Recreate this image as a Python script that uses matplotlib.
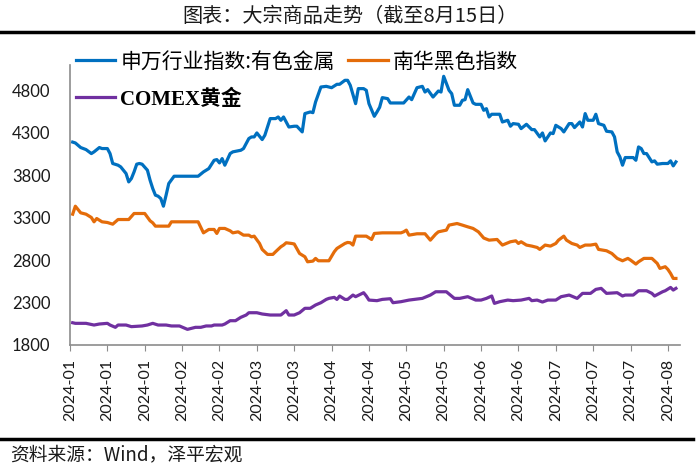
import datetime as dt
import matplotlib
matplotlib.use("Agg")
import matplotlib.pyplot as plt
import matplotlib.dates as mdates
import pandas as pd
from matplotlib.lines import Line2D

# ---- data ----
blue_label = "申万行业指数:有色金属"
orange_label = "南华黑色指数"
purple_label = "COMEX黄金"

blue_dates = [
    "01-02", "01-03", "01-05", "01-07", "01-09", "01-10", "01-12", "01-13", "01-15", "01-16", "01-17",
    "01-19", "01-20", "01-22", "01-23", "01-24", "01-25", "01-26", "01-27", "01-28", "01-30", "01-31",
    "02-01", "02-02", "02-03", "02-04", "02-05", "02-06", "02-07", "02-09", "02-18", "02-20", "02-22",
    "02-24", "02-25", "02-26", "02-27", "02-28",
    "03-01", "03-02", "03-05", "03-06", "03-08", "03-09", "03-10", "03-11", "03-13", "03-14", "03-16",
    "03-18", "03-19", "03-20", "03-21", "03-23", "03-25", "03-26", "03-28", "03-29", "03-31",
    "04-01", "04-02", "04-04", "04-06", "04-08", "04-10", "04-11", "04-13", "04-14", "04-15", "04-17",
    "04-18", "04-20", "04-21", "04-22", "04-24", "04-25", "04-26", "04-27", "04-29", "04-30",
    "05-05", "05-07", "05-08", "05-10", "05-12", "05-13", "05-14", "05-16", "05-18", "05-19", "05-20",
    "05-22", "05-23", "05-24", "05-26", "05-27", "05-28", "05-29", "05-31",
    "06-01", "06-03", "06-04", "06-05", "06-06", "06-07", "06-10", "06-11", "06-13", "06-14", "06-15",
    "06-17", "06-18", "06-20", "06-22", "06-23", "06-25", "06-26", "06-27", "06-29", "06-30",
    "07-01", "07-03", "07-04", "07-06", "07-07", "07-08", "07-10", "07-11", "07-12", "07-13", "07-15",
    "07-16", "07-17", "07-19", "07-20", "07-22", "07-23", "07-24", "07-25", "07-26", "07-27", "07-30",
    "07-31",
    "08-01", "08-02", "08-03", "08-04", "08-06", "08-07", "08-08", "08-10", "08-12", "08-13", "08-14",
    "08-15",
]
blue_values = [
    4190, 4180, 4126, 4102, 4055, 4075, 4126, 4114, 4114, 4055, 3938,
    3918, 3898, 3820, 3721, 3761, 3839, 3930, 3938, 3930, 3859, 3741,
    3643, 3565, 3553, 3526, 3435, 3565, 3702, 3788, 3788, 3839, 3878,
    3976, 3984, 3945, 3996, 3918,
    4055, 4075, 4094, 4114, 4232, 4251, 4251, 4298, 4220, 4271, 4467,
    4467, 4486, 4447, 4486, 4368, 4377, 4377, 4310, 4526, 4545,
    4537, 4663, 4839, 4847, 4831, 4871, 4871, 4918, 4918, 4859, 4643,
    4820, 4820, 4800, 4643, 4494, 4545, 4600, 4714, 4702, 4651,
    4651, 4721, 4690, 4831, 4847, 4780, 4808, 4721, 4792, 4780, 4965,
    4800, 4761, 4624, 4624, 4682, 4690, 4808, 4651,
    4635, 4635, 4565, 4584, 4486, 4518, 4518, 4427, 4447, 4377, 4408,
    4400, 4349, 4400, 4337, 4337, 4251, 4298, 4204, 4298, 4290,
    4388, 4349, 4310, 4408, 4408, 4361, 4427, 4368, 4526, 4447, 4447,
    4518, 4408, 4388, 4318, 4310, 4251, 4075, 4016, 3918, 4008, 4008,
    3976,
    4133, 4114, 4055, 4055, 3957, 3969, 3930, 3938, 3938, 3969, 3910,
    3957,
]

orange_dates = [
    "01-02", "01-03", "01-05", "01-07", "01-09", "01-10", "01-11", "01-13", "01-15", "01-17", "01-19",
    "01-23", "01-25", "01-29", "01-31",
    "02-01", "02-02", "02-07", "02-08", "02-18", "02-20", "02-22", "02-24", "02-25", "02-26", "02-28",
    "03-01", "03-02", "03-04", "03-06", "03-08", "03-09", "03-10", "03-12", "03-13", "03-15", "03-17",
    "03-18", "03-20", "03-21", "03-22", "03-24", "03-25", "03-27", "03-29", "03-30",
    "04-01", "04-02", "04-03", "04-07", "04-09", "04-10", "04-11", "04-13", "04-14", "04-15", "04-16",
    "04-17", "04-21", "04-23", "04-24", "04-27",
    "05-04", "05-05", "05-06", "05-07", "05-10", "05-13", "05-15", "05-17", "05-18", "05-21", "05-22",
    "05-25", "05-27", "05-29", "05-31",
    "06-02", "06-04", "06-06", "06-09", "06-11", "06-14", "06-16", "06-17", "06-18", "06-20", "06-22",
    "06-24", "06-25", "06-27", "06-29",
    "07-01", "07-02", "07-04", "07-05", "07-07", "07-09", "07-10", "07-12", "07-14", "07-16", "07-17",
    "07-20", "07-22", "07-24", "07-26", "07-28", "07-29", "07-31",
    "08-01", "08-03", "08-06", "08-08", "08-09", "08-11", "08-12", "08-13", "08-14", "08-15",
]
orange_values = [
    3341, 3435, 3357, 3341, 3302, 3251, 3290, 3251, 3243, 3223, 3278,
    3278, 3349, 3349, 3263,
    3239, 3200, 3200, 3251, 3251, 3121, 3161, 3161, 3114, 3173, 3173,
    3145, 3121, 3133, 3094, 3094, 3074, 3082, 2996, 2926, 2867, 2867,
    2898, 2957, 2977, 3004, 2996, 2990, 2878, 2839, 2780,
    2788, 2820, 2792, 2792, 2898, 2937, 2957, 2996, 3008, 3004, 2977,
    3082, 3082, 3043, 3114, 3121,
    3121, 3133, 3153, 3094, 3110, 3110, 3035, 3106, 3133, 3153, 3212,
    3231, 3212, 3192, 3173,
    3133, 3060, 3035, 3043, 2977, 3016, 3027, 2996, 3016, 2977, 2965,
    2949, 2926, 2977, 2965,
    2996, 3035, 3082, 3035, 2996, 2977, 2949, 2977, 2977, 2988, 2926,
    2910, 2878, 2820, 2792, 2820, 2800, 2753,
    2780, 2820, 2820, 2761, 2702, 2722, 2690, 2643, 2584, 2584,
]

purple_dates = [
    "01-02", "01-03", "01-07", "01-10", "01-12", "01-15", "01-16", "01-18", "01-19", "01-22", "01-24",
    "01-28", "01-30",
    "02-01", "02-03", "02-06", "02-08", "02-11", "02-14", "02-17", "02-19", "02-21", "02-23", "02-24",
    "02-27", "02-28",
    "03-01", "03-03", "03-05", "03-07", "03-08", "03-11", "03-13", "03-16", "03-20", "03-22", "03-23",
    "03-25", "03-27", "03-29", "03-31",
    "04-02", "04-04", "04-06", "04-07", "04-09", "04-10", "04-11", "04-13", "04-14", "04-16", "04-17",
    "04-19", "04-20", "04-21", "04-22", "04-25", "04-27", "04-30",
    "05-01", "05-04", "05-07", "05-12", "05-15", "05-17", "05-21", "05-24", "05-26", "05-29",
    "06-01", "06-03", "06-05", "06-07", "06-08", "06-10", "06-13", "06-15", "06-18", "06-21", "06-22",
    "06-24", "06-26", "06-28",
    "07-01", "07-03", "07-06", "07-09", "07-11", "07-14", "07-16", "07-18", "07-20", "07-24", "07-26",
    "07-27", "07-30",
    "08-01", "08-04", "08-06", "08-07", "08-10", "08-11", "08-13", "08-14", "08-15",
]
purple_values = [
    2062, 2055, 2055, 2035, 2047, 2055, 2035, 2008, 2035, 2035, 2016,
    2024, 2035,
    2055, 2035, 2035, 2024, 2024, 1984, 2008, 2008, 2024, 2024, 2035,
    2035, 2047,
    2086, 2086, 2126, 2153, 2180, 2180, 2165, 2153, 2153, 2204, 2153,
    2153, 2180, 2232, 2232,
    2271, 2298, 2337, 2349, 2361, 2337, 2377, 2337, 2337, 2388, 2369,
    2400, 2416, 2377, 2329, 2322, 2337, 2345,
    2298, 2310, 2329, 2349, 2388, 2427, 2427, 2349, 2349, 2369,
    2329, 2329, 2349, 2377, 2290, 2310, 2329, 2322, 2329, 2349, 2322,
    2329, 2306, 2329,
    2329, 2369, 2388, 2349, 2408, 2408, 2455, 2467, 2408, 2416, 2377,
    2388, 2388,
    2439, 2439, 2408, 2377, 2427, 2439, 2478, 2447, 2467,
]

y_ticks = [1800, 2300, 2800, 3300, 3800, 4300, 4800]

title = "图表：大宗商品走势（截至8月15日）"
source = "资料来源：Wind，泽平宏观"


def to_dates(days):
    return pd.to_datetime(["2024-" + d for d in days])


cjk = ["Noto Sans CJK SC", "DejaVu Sans"]

fig = plt.figure(figsize=(7, 4.7), dpi=100)
ax = fig.add_axes([0.1, 0.266, 0.871, 0.596])

l_blue, = ax.plot(to_dates(blue_dates), blue_values, color="#0070C0", lw=2.3, label=blue_label)
l_orange, = ax.plot(to_dates(orange_dates), orange_values, color="#E46C0A", lw=2.3, label=orange_label)
l_purple, = ax.plot(to_dates(purple_dates), purple_values, color="#7030A0", lw=2.3, label=purple_label)

ax.set_ylim(1800, 5100)
ax.set_yticks(y_ticks)
ax.set_xlim(dt.datetime(2024, 1, 1), dt.datetime(2024, 8, 16, 10))
ax.set_xticks(pd.date_range("2024-01-01", "2024-08-12", freq="14D"))
ax.xaxis.set_major_formatter(mdates.DateFormatter("%Y-%m"))

for s in ["top", "right"]:
    ax.spines[s].set_visible(False)
for s in ["left", "bottom"]:
    ax.spines[s].set_color("#8c8c8c")
    ax.spines[s].set_linewidth(1.2)

ax.tick_params(axis="y", length=0, pad=14, labelsize=12, labelcolor="#1a1a1a")
ax.tick_params(axis="x", length=4, color="#8c8c8c", pad=6, labelsize=11.5,
               labelrotation=90, labelcolor="#1a1a1a")
for t in ax.get_xticklabels() + ax.get_yticklabels():
    t.set_fontfamily("Lato")

leg = ax.legend(handles=[l_blue, l_purple, l_orange], ncol=2, frameon=False,
                loc="upper left", bbox_to_anchor=(0.108, 0.892), bbox_transform=fig.transFigure,
                borderpad=0, borderaxespad=0, handlelength=1.9, handletextpad=0.25,
                columnspacing=0.65, labelspacing=0.8, prop={"family": cjk, "size": 15})
for line in leg.get_lines():
    line.set_linewidth(2.3)
for t in leg.get_texts():
    if t.get_text() == purple_label:
        t.set_fontfamily(["Liberation Serif", "Noto Sans CJK SC"])
        t.set_fontweight("bold")

fig.text(0.5, 0.965, title, ha="center", va="center", fontsize=14.5, family=cjk, color="#1a1a1a")
fig.add_artist(Line2D([0.0, 0.99], [0.932, 0.932], transform=fig.transFigure, color="black", lw=2.5))
fig.add_artist(Line2D([0.0, 0.99], [0.066, 0.066], transform=fig.transFigure, color="black", lw=2.5))
fig.text(0.015, 0.033, source, ha="left", va="center", fontsize=13.5, family=cjk,
         style="italic", color="#1a1a1a")

fig.savefig("out.png", dpi=100)
